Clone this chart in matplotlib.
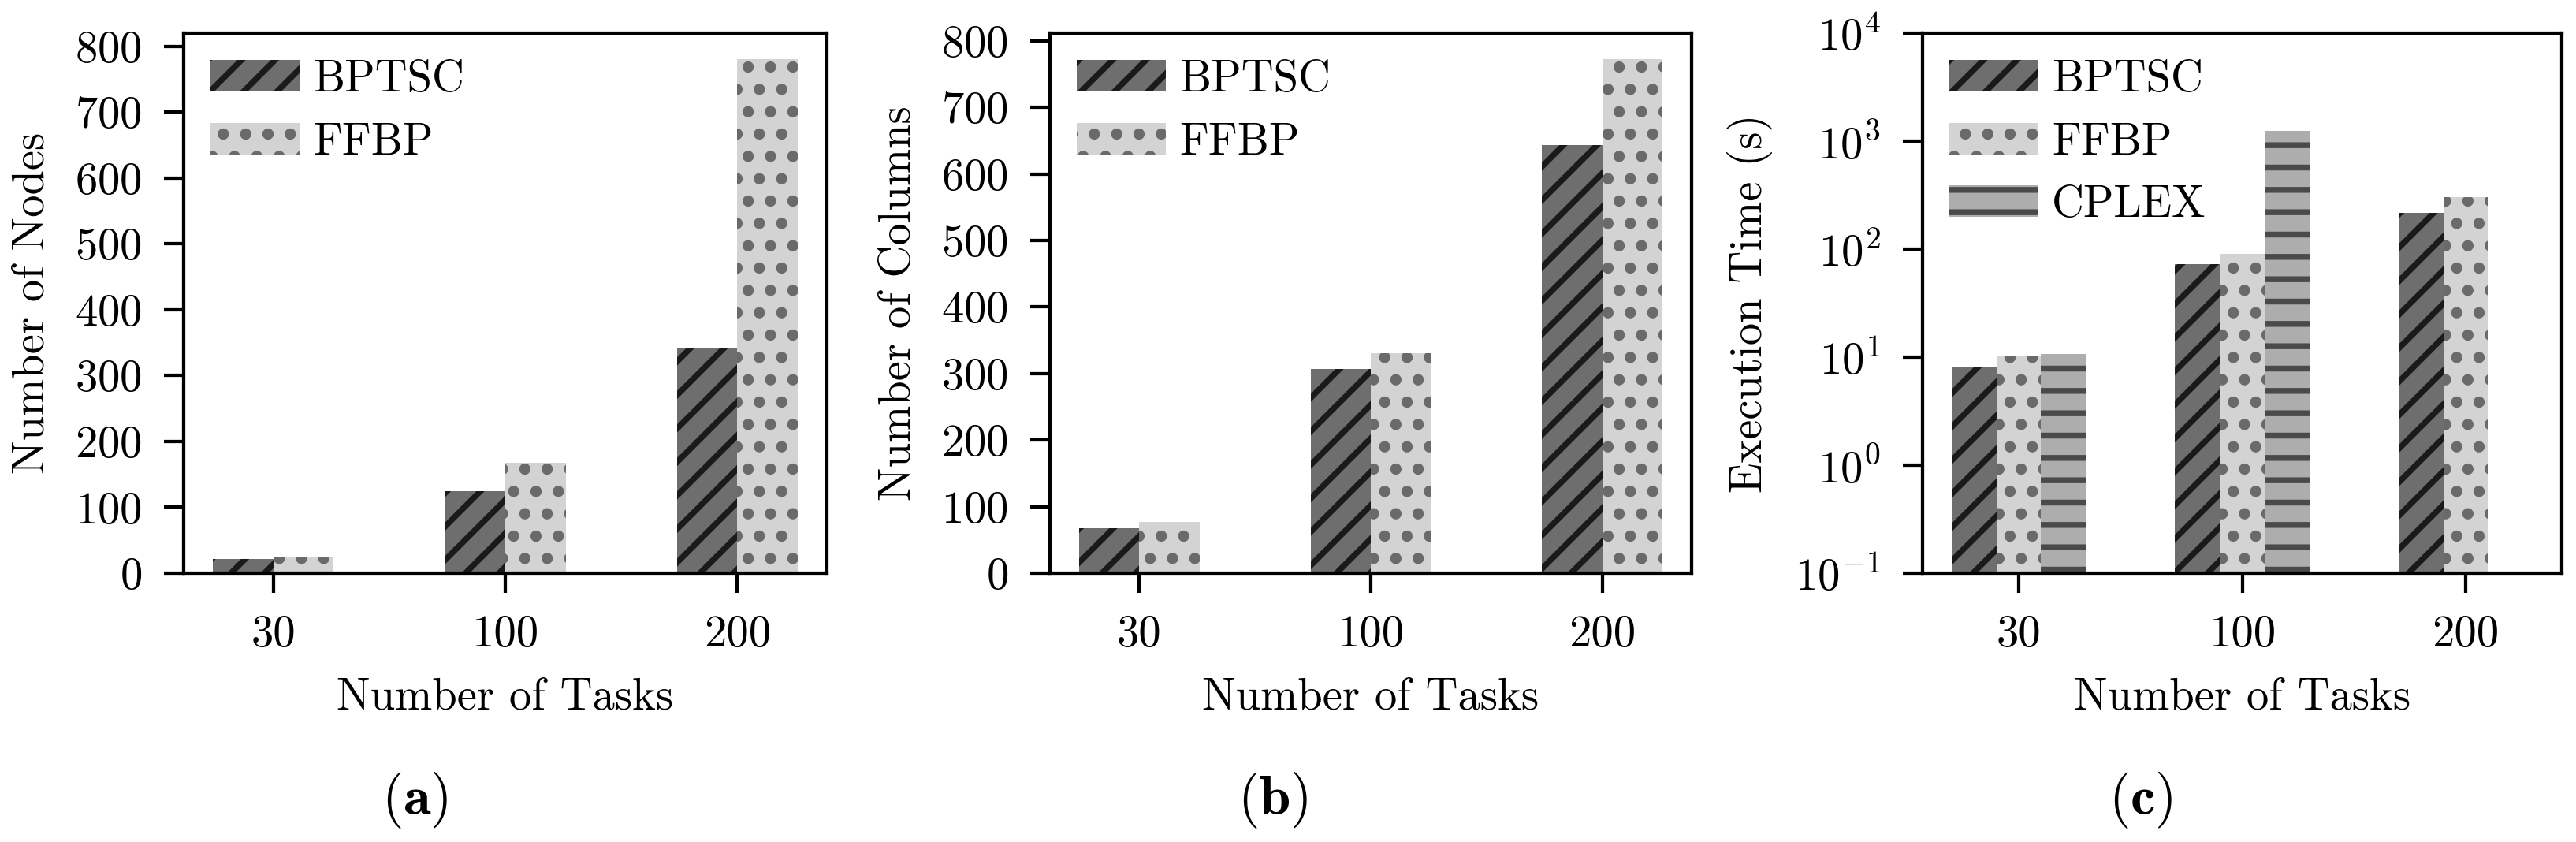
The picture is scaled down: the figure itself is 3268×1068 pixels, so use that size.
import numpy as np
import matplotlib
matplotlib.use("Agg")
import matplotlib.pyplot as plt
import matplotlib.hatch as mhatch
from matplotlib.ticker import MultipleLocator

# data
tasks = ["30", "100", "200"]
nodes_bptsc = [21, 125, 341]
nodes_ffbp = [25, 168, 781]
cols_bptsc = [67, 307, 643]
cols_ffbp = [77, 330, 773]
time_bptsc = [8.1, 72.6, 217]
time_ffbp = [10.2, 90, 303]
time_cplex = [10.7, 1240, np.nan]  # no CPLEX run for 200 tasks

plt.rcParams['font.family'] = 'cmr10'
plt.rcParams['mathtext.fontset'] = 'cm'
plt.rcParams['axes.formatter.use_mathtext'] = True
plt.rcParams['font.size'] = 8
plt.rcParams['axes.linewidth'] = 0.6
plt.rcParams['xtick.major.width'] = 0.6
plt.rcParams['ytick.major.width'] = 0.6
plt.rcParams['xtick.major.pad'] = 4
plt.rcParams['ytick.major.pad'] = 4
plt.rcParams['hatch.linewidth'] = 1.05

# slightly bigger filled dots than the stock '.' hatch
mhatch.SmallFilledCircles.size = 0.12

styles = {
    "BPTSC": dict(color="#6e6e6e", edgecolor="#1a1a1a", hatch="////"),
    "FFBP": dict(color="#d3d3d3", edgecolor="#6a6a6a", hatch="..."),
    "CPLEX": dict(color="#adadad", edgecolor="#4a4a4a", hatch="---"),
}

fig = plt.figure(figsize=(3268 / 510, 1068 / 510), dpi=510)
bot, h = 341 / 1068, 685 / 1068
ax_a = fig.add_axes([233 / 3268, bot, 816 / 3268, h])
ax_b = fig.add_axes([1332 / 3268, bot, 814 / 3268, h])
ax_c = fig.add_axes([2439 / 3268, bot, 811 / 3268, h])

x = np.arange(len(tasks))


def two_bars(ax, v1, v2, ylabel):
    w = 0.26
    ax.bar(x - w / 2, v1, w, label="BPTSC", linewidth=0, **styles["BPTSC"])
    ax.bar(x + w / 2, v2, w, label="FFBP", linewidth=0, **styles["FFBP"])
    ax.set_xticks(x, tasks)
    ax.yaxis.set_major_locator(MultipleLocator(100))
    ax.set_ylabel(ylabel)
    ax.set_xlabel("Number of Tasks")
    ax.legend(loc="upper left", frameon=False, borderaxespad=0.2,
              handletextpad=0.3)


two_bars(ax_a, nodes_bptsc, nodes_ffbp, "Number of Nodes")
two_bars(ax_b, cols_bptsc, cols_ffbp, "Number of Columns")

w = 0.2
ax_c.bar(x - w, time_bptsc, w, label="BPTSC", linewidth=0, **styles["BPTSC"])
ax_c.bar(x, time_ffbp, w, label="FFBP", linewidth=0, **styles["FFBP"])
ax_c.bar(x + w, time_cplex, w, label="CPLEX", linewidth=0, **styles["CPLEX"])
ax_c.set_yscale("log")
ax_c.set_ylim(0.1, 1e4)
ax_c.set_xlim(-0.43, 2.43)
ax_c.minorticks_off()
ax_c.set_xticks(x, tasks)
ax_c.set_ylabel("Execution Time (s)")
ax_c.set_xlabel("Number of Tasks")
ax_c.legend(loc="upper left", frameon=False, borderaxespad=0.2,
            handletextpad=0.3)

for xc, lab in zip([526, 1615, 2716], "abc"):
    fig.text(xc / 3268, 0.05, r"($\mathbf{%s}$)" % lab, fontsize=10,
             ha="center", va="center")

fig.savefig("out.png", dpi=510)
